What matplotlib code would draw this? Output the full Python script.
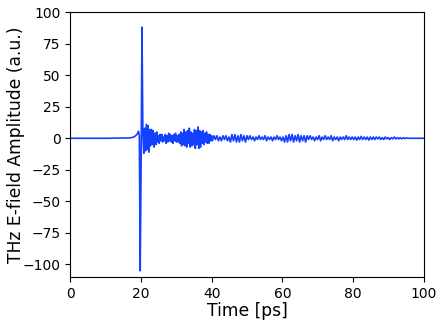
import numpy as np
import matplotlib
matplotlib.use('Agg')
import matplotlib.pyplot as plt

# pre-pulse baseline and small rise before the main pulse
t_pre = [0, 10, 17, 18, 18.5, 19.0, 19.3, 19.55]
e_pre = [0, 0, 0.3, 1, 2, 3.5, 5.5, 2]

# main pulse
t_main = [19.8, 20.05, 20.3, 20.55]
e_main = [-105, -20, 88, 4]

# ringing after the pulse, 20.8 -> 40 ps
ring_start, ring_end = 20.8, 40.0
e_ring = [-12, 8, -10, 11, -9, 10, -11, 7,
          -6, 7, -5, 6, -7, 4, -5, 5,
          -3, 2, -4, 3, -2, 3, -3, 1, -2, 3, -4, 2, -3, 4, -2, 3, -3, 2, -4, 3,
          -2, 4, -3, 2, -3, 3, -4,
          5, -6, 4, -5, 7, -6, 5, -7, 6, -4, 8, -7, 5, -6, 4, -5, 7, -8, 6, -5,
          9, -8, 6, -7, 5, -4, 6, -5, 4, -3, 5, -4, 3, -4, 3, -2, 2]

# weaker ringing, 40.2 -> 95 ps
tail_start, tail_end = 40.2, 95.0
e_tail = [-2, 2, -1, 2, -2, 1, -2, 2, -1, 2, -2, 1,
          -3, 3, -2, 3, -3, 2, -3, 3, -2, 2, -3, 2,
          -1, 2, -1, 1, -2, 1, -1, 2, -1, 1, -1, 2, -2, 1, -1, 1, -2, 1, -1, 2,
          -1, 1, -2, 1,
          -3, 2, -3, 3, -2, 3, -3, 2, -2, 3, -3, 2, -2, 2, -3, 2,
          -1, 2, -1, 1, -2, 1, -1, 2, -2, 1, -1, 2, -1, 1, -1, 2, -2, 1, -1, 1,
          -2, 1, -1, 1, -1, 2, -1, 1, -1, 1,
          -1, 1, -1.5, 1, -1, 1.5, -1, 1, -1, 1, -1.5, 1, -1, 1, -1, 1, -0.5, 1,
          -1, 0.5, -1, 1, -0.5, 0.5, -1, 0.5, -0.5, 1, -0.5, 0.5, -0.5, 0.5,
          -0.5, 0.5, -0.3, 0.3]

t_end = [95.5, 100]
e_end = [0, 0]

t = np.concatenate([t_pre, t_main,
                    np.linspace(ring_start, ring_end, len(e_ring)),
                    np.linspace(tail_start, tail_end, len(e_tail)),
                    t_end])
e = np.concatenate([e_pre, e_main, e_ring, e_tail, e_end])

fig = plt.figure(figsize=(4.44, 3.26), dpi=100)
ax = fig.add_axes([0.158, 0.150, 0.797, 0.813])
ax.plot(t, e, color='#1440ff', linewidth=1.2)

ax.set_xlim(0, 100)
ax.set_ylim(-110, 100)
ax.set_xticks([0, 20, 40, 60, 80, 100])
ax.set_yticks([-100, -75, -50, -25, 0, 25, 50, 75, 100])
ax.tick_params(labelsize=10)
ax.set_xlabel('Time [ps]', fontsize=12.3, labelpad=1)
ax.set_ylabel('THz E-field Amplitude (a.u.)', fontsize=12.3, labelpad=-1.5)

fig.savefig('out.png', dpi=100)
